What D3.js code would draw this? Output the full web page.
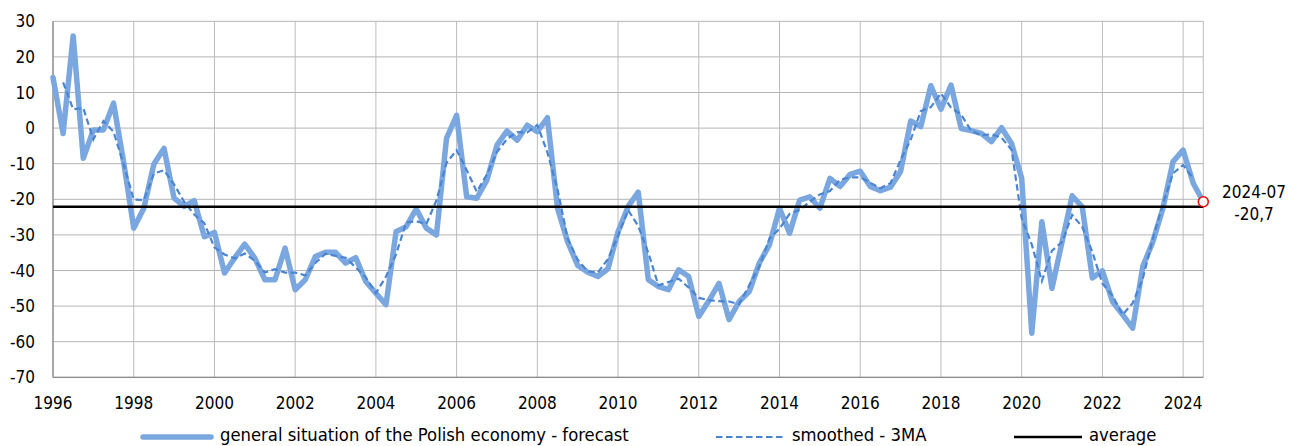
<!DOCTYPE html>
<html>
<head>
<meta charset="utf-8">
<script src="https://cdn.jsdelivr.net/npm/d3@7/dist/d3.min.js"></script>
<style>
  html, body { margin: 0; padding: 0; background: #fff; }
  svg { display: block; }
  text { font-family: "DejaVu Sans Condensed", "DejaVu Sans", sans-serif; fill: #000; }
</style>
</head>
<body>
<svg id="chart" width="1291" height="446"></svg>
<script>
// ---- data (quarterly, 1996-01 .. 2024-07) ----
const yearLabels = ["1996","1998","2000","2002","2004","2006","2008","2010","2012","2014","2016","2018","2020","2022","2024"];
const yTicks = [30, 20, 10, 0, -10, -20, -30, -40, -50, -60, -70];
const seriesNames = ["general situation of the Polish economy - forecast", "smoothed - 3MA", "average"];

const forecast = [
  14.2, -1.5, 25.9, -8.5, -0.5, -0.5, 7.0, -9.5,
  -28.1, -22.5, -10.1, -5.7, -19.7, -22.0, -20.4, -30.5,
  -29.3, -40.7, -36.5, -32.6, -36.5, -42.6, -42.6, -33.7,
  -45.4, -42.6, -36.1, -34.9, -34.9, -37.9, -36.4, -43.1,
  -46.4, -49.6, -29.1, -27.7, -22.7, -28.1, -30.0, -2.9,
  3.6, -19.3, -19.7, -14.6, -4.8, -0.8, -3.4, 0.8,
  -1.0, 2.9, -22.5, -31.9, -38.6, -40.5, -41.7, -39.5,
  -29.1, -22.0, -18.0, -42.6, -44.5, -45.4, -39.8, -41.7,
  -52.9, -48.5, -43.6, -53.8, -48.7, -45.9, -37.9, -32.8,
  -22.5, -29.5, -20.2, -19.3, -22.5, -14.1, -16.4, -13.0,
  -12.1, -16.4, -17.6, -16.6, -12.2, 2.0, 0.4, 11.9,
  5.3, 12.1, -0.1, -0.7, -1.5, -3.8, 0.1, -4.3,
  -14.1, -57.6, -26.3, -45.0, -32.0, -19.0, -22.1, -42.1,
  -40.1, -48.7, -52.4, -56.2, -38.9, -31.9, -22.5, -9.4,
  -6.2, -15.5, -20.7
];

const smoothed = [
  null, 12.87, 5.30, 5.63, -3.17, 2.00, -1.00, -10.20,
  -20.03, -20.23, -12.77, -11.83, -15.80, -20.70, -24.30, -26.73,
  -33.50, -35.50, -36.60, -35.20, -37.23, -40.57, -39.63, -40.57,
  -40.57, -41.37, -37.87, -35.30, -35.90, -36.40, -39.13, -41.97,
  -46.37, -41.70, -35.47, -26.50, -26.17, -26.93, -20.33, -9.77,
  -6.20, -11.80, -17.87, -13.03, -6.73, -3.00, -1.13, -1.20,
  0.90, -6.87, -17.17, -31.00, -37.00, -40.27, -40.57, -36.77,
  -30.20, -23.03, -27.53, -35.03, -44.17, -43.23, -42.30, -44.80,
  -47.70, -48.33, -48.63, -48.70, -49.47, -44.17, -38.87, -31.07,
  -28.27, -24.07, -23.00, -20.67, -18.63, -17.67, -14.50, -13.83,
  -13.83, -15.37, -16.87, -15.47, -8.93, -3.27, 4.77, 5.87,
  9.77, 5.77, 3.77, -0.77, -2.00, -1.73, -2.67, -6.10,
  -25.33, -32.67, -42.97, -34.43, -32.00, -24.37, -27.73, -34.77,
  -43.63, -47.07, -52.43, -49.17, -42.33, -31.10, -21.27, -12.70,
  -10.37, -14.13, null
];

const averageValue = -22.1;
const lastPeriodLabel = "2024-07";
const lastValueLabel = "-20,7";

// ---- layout ----
const svg = d3.select("#chart");
const n = forecast.length;
const x = d3.scaleLinear().domain([0, n - 1]).range([53, 1203.3]);
const y = d3.scaleLinear().domain([-70, 30]).range([377.3, 21.3]);
const yearIdx = yearLabels.map((d, i) => i * 8);

// grid
const grid = svg.append("g");
grid.selectAll("line.h").data(yTicks).join("line")
  .attr("x1", x(0)).attr("x2", x(n - 1))
  .attr("y1", d => y(d)).attr("y2", d => y(d))
  .attr("stroke", "#b4b4b4").attr("stroke-width", 1);
grid.selectAll("line.v").data(yearIdx.concat([n - 1])).join("line")
  .attr("x1", d => x(d)).attr("x2", d => x(d))
  .attr("y1", y(30)).attr("y2", y(-70))
  .attr("stroke", "#bcbcbc").attr("stroke-width", 1);
// axis lines
svg.append("line").attr("x1", x(0)).attr("x2", x(0)).attr("y1", y(30)).attr("y2", y(-70))
  .attr("stroke", "#8c8c8c").attr("stroke-width", 1.3);
svg.append("line").attr("x1", x(0)).attr("x2", x(n - 1)).attr("y1", y(-70)).attr("y2", y(-70))
  .attr("stroke", "#8c8c8c").attr("stroke-width", 1.3);

// y labels
svg.append("g").selectAll("text").data(yTicks).join("text")
  .attr("x", 35).attr("y", d => y(d) + 6)
  .attr("text-anchor", "end").attr("font-size", 17)
  .text(d => d);
// x labels
svg.append("g").selectAll("text").data(yearLabels).join("text")
  .attr("x", (d, i) => x(yearIdx[i])).attr("y", 409)
  .attr("text-anchor", "middle").attr("font-size", 17)
  .text(d => d);

// series
const line = d3.line().defined(d => d != null).x((d, i) => x(i)).y(d => y(d));
const lineMain = d3.line().x((d, i) => x(i)).y(d => y(d));
svg.append("path").datum(forecast).attr("d", lineMain)
  .attr("fill", "none").attr("stroke", "#7aa7df").attr("stroke-width", 5.5)
  .attr("stroke-linejoin", "round").attr("stroke-linecap", "round");
svg.append("path").datum(smoothed).attr("d", line)
  .attr("fill", "none").attr("stroke", "#4a85d3").attr("stroke-width", 2.2)
  .attr("stroke-dasharray", "6.5,3.5");
svg.append("line").attr("x1", x(0)).attr("x2", x(n - 1))
  .attr("y1", y(averageValue)).attr("y2", y(averageValue))
  .attr("stroke", "#000").attr("stroke-width", 2.6);

// last value marker + label
svg.append("circle").attr("cx", x(n - 1)).attr("cy", y(forecast[n - 1])).attr("r", 5)
  .attr("fill", "#fff").attr("stroke", "#ff0000").attr("stroke-width", 1.5);
svg.append("text").attr("x", 1254).attr("y", 198).attr("text-anchor", "middle")
  .attr("font-size", 17).text(lastPeriodLabel);
svg.append("text").attr("x", 1254).attr("y", 219.5).attr("text-anchor", "middle")
  .attr("font-size", 17).text(lastValueLabel);

// legend
const leg = svg.append("g");
leg.append("line").attr("x1", 143).attr("x2", 211).attr("y1", 437).attr("y2", 437)
  .attr("stroke", "#7aa7df").attr("stroke-width", 5.5).attr("stroke-linecap", "round");
leg.append("text").attr("x", 220).attr("y", 441).attr("font-size", 18.3).text(seriesNames[0]);
leg.append("line").attr("x1", 716).attr("x2", 785).attr("y1", 437).attr("y2", 437)
  .attr("stroke", "#4a85d3").attr("stroke-width", 2.2).attr("stroke-dasharray", "6.5,3.5");
leg.append("text").attr("x", 792).attr("y", 441).attr("font-size", 18.3).text(seriesNames[1]);
leg.append("line").attr("x1", 1014).attr("x2", 1082).attr("y1", 437).attr("y2", 437)
  .attr("stroke", "#000").attr("stroke-width", 2.6);
leg.append("text").attr("x", 1089).attr("y", 441).attr("font-size", 18.3).text(seriesNames[2]);
</script>
</body>
</html>
